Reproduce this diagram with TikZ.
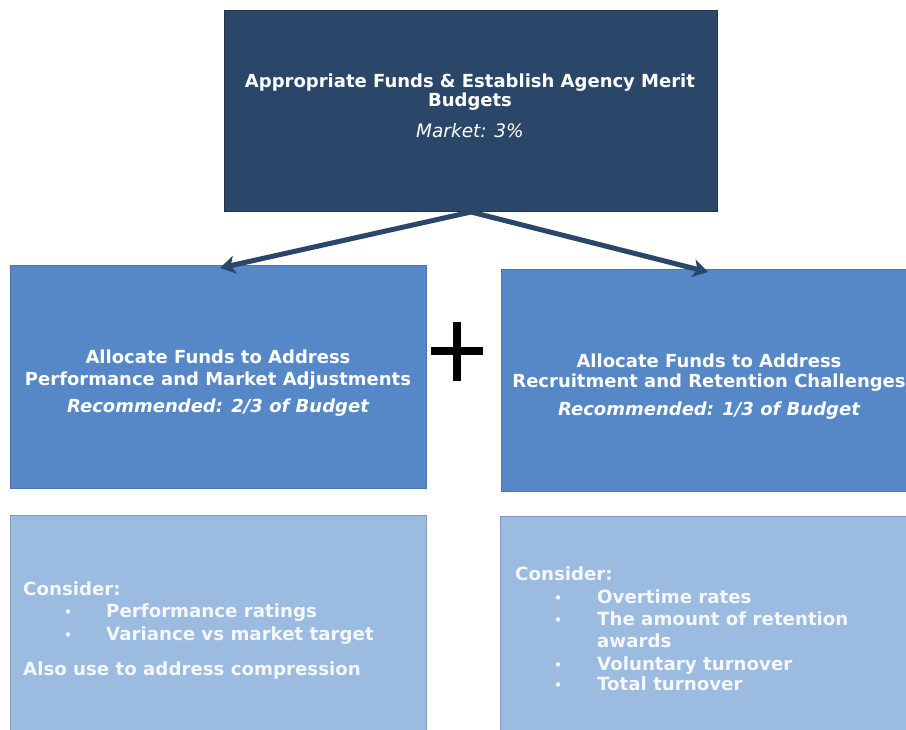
\documentclass[tikz,border=0pt]{standalone}
\usepackage{fontspec}
\setmainfont{DejaVu Sans}
\usetikzlibrary{arrows.meta}
\definecolor{navy}{HTML}{2A4769}
\definecolor{navyedge}{HTML}{1F3550}
\definecolor{midblue}{HTML}{5687C6}
\definecolor{midedge}{HTML}{4A76AE}
\definecolor{paleblue}{HTML}{9CBBE1}
\definecolor{paleedge}{HTML}{7F9DC2}
\definecolor{paletext}{HTML}{F4F7FB}
\begin{document}
\begin{tikzpicture}[x=1pt,y=-1pt,
  box/.style={anchor=north west, inner sep=0pt, line width=1pt},
  topbox/.style={box, fill=navy, draw=navyedge},
  midbox/.style={box, fill=midblue, draw=midedge},
  lowbox/.style={box, fill=paleblue, draw=paleedge},
  headline/.style={anchor=base, inner sep=0pt, text=white,
    font=\bfseries\fontsize{18}{21}\selectfont},
  subline/.style={anchor=base, inner sep=0pt, text=white,
    font=\itshape\fontsize{18.5}{21}\selectfont},
  subbold/.style={anchor=base, inner sep=0pt, text=white,
    font=\bfseries\itshape\fontsize{18}{21}\selectfont},
  listline/.style={anchor=base west, inner sep=0pt, text=paletext,
    font=\bfseries\fontsize{18.2}{21}\selectfont},
  dot/.style={anchor=base, inner sep=0pt, text=paletext,
    font=\fontsize{15}{17}\selectfont},
  conn/.style={draw=navy, line width=5pt,
    -{Stealth[length=15pt,width=18pt,inset=4pt]}},
]
\useasboundingbox (0,0) rectangle (906,730);
\clip (0,0) rectangle (906,730);

% boxes
\node[topbox, minimum width=493pt, minimum height=201pt] (top) at (224,10) {};
\node[midbox, minimum width=416pt, minimum height=223pt] (lmid) at (10,265) {};
\node[midbox, minimum width=420pt, minimum height=222pt] (rmid) at (501,269) {};
\node[lowbox, minimum width=416pt, minimum height=232pt] (llow) at (10,515) {};
\node[lowbox, minimum width=420pt, minimum height=232pt] (rlow) at (500,516) {};

% top box text
\node[headline] (topa) at (470,88) {Appropriate Funds \& Establish Agency Merit};
\node[headline] (topb) at (470,107) {Budgets};
\node[subline]  (topc) at (470,138) {Market: 3\%};

% middle left text
\node[headline] (lma) at (218,363) {Allocate Funds to Address};
\node[headline] (lmb) at (218,385) {Performance and Market Adjustments};
\node[subbold]  (lmc) at (218,412) {Recommended: 2/3 of Budget};

% middle right text
\node[headline] (rma) at (709,367) {Allocate Funds to Address};
\node[headline] (rmb) at (709,388) {Recruitment and Retention Challenges};
\node[subbold]  (rmc) at (709,416) {Recommended: 1/3 of Budget};

% lower left list
\node[listline] (lla) at (23,595) {Consider:};
\node[dot] (llb1) at (68,617) {\textbullet};
\node[listline] (llb) at (106,617) {Performance ratings};
\node[dot] (llc1) at (68,640) {\textbullet};
\node[listline] (llc) at (106,640) {Variance vs market target};
\node[listline] (lld) at (23,675) {Also use to address compression};

% lower right list
\node[listline] (rla) at (515,580) {Consider:};
\node[dot] (rlb1) at (558,603) {\textbullet};
\node[listline] (rlb) at (597,603) {Overtime rates};
\node[dot] (rlc1) at (558,625) {\textbullet};
\node[listline] (rlc) at (597,625) {The amount of retention};
\node[listline] (rld) at (597,647) {awards};
\node[dot] (rle1) at (558,670) {\textbullet};
\node[listline] (rle) at (597,670) {Voluntary turnover};
\node[dot] (rlf1) at (558,690) {\textbullet};
\node[listline] (rlf) at (597,690) {Total turnover};

% connectors
\coordinate (ltip) at (220,268);
\coordinate (rtip) at (708,272);
\draw[conn] (top.south) -- (ltip);
\draw[conn] (top.south) -- (rtip);

% plus sign between the two allocations
\draw[line width=8.5pt] (431,351) -- (483,351);
\draw[line width=8.5pt] (457,322) -- (457,381);
\end{tikzpicture}
\end{document}
